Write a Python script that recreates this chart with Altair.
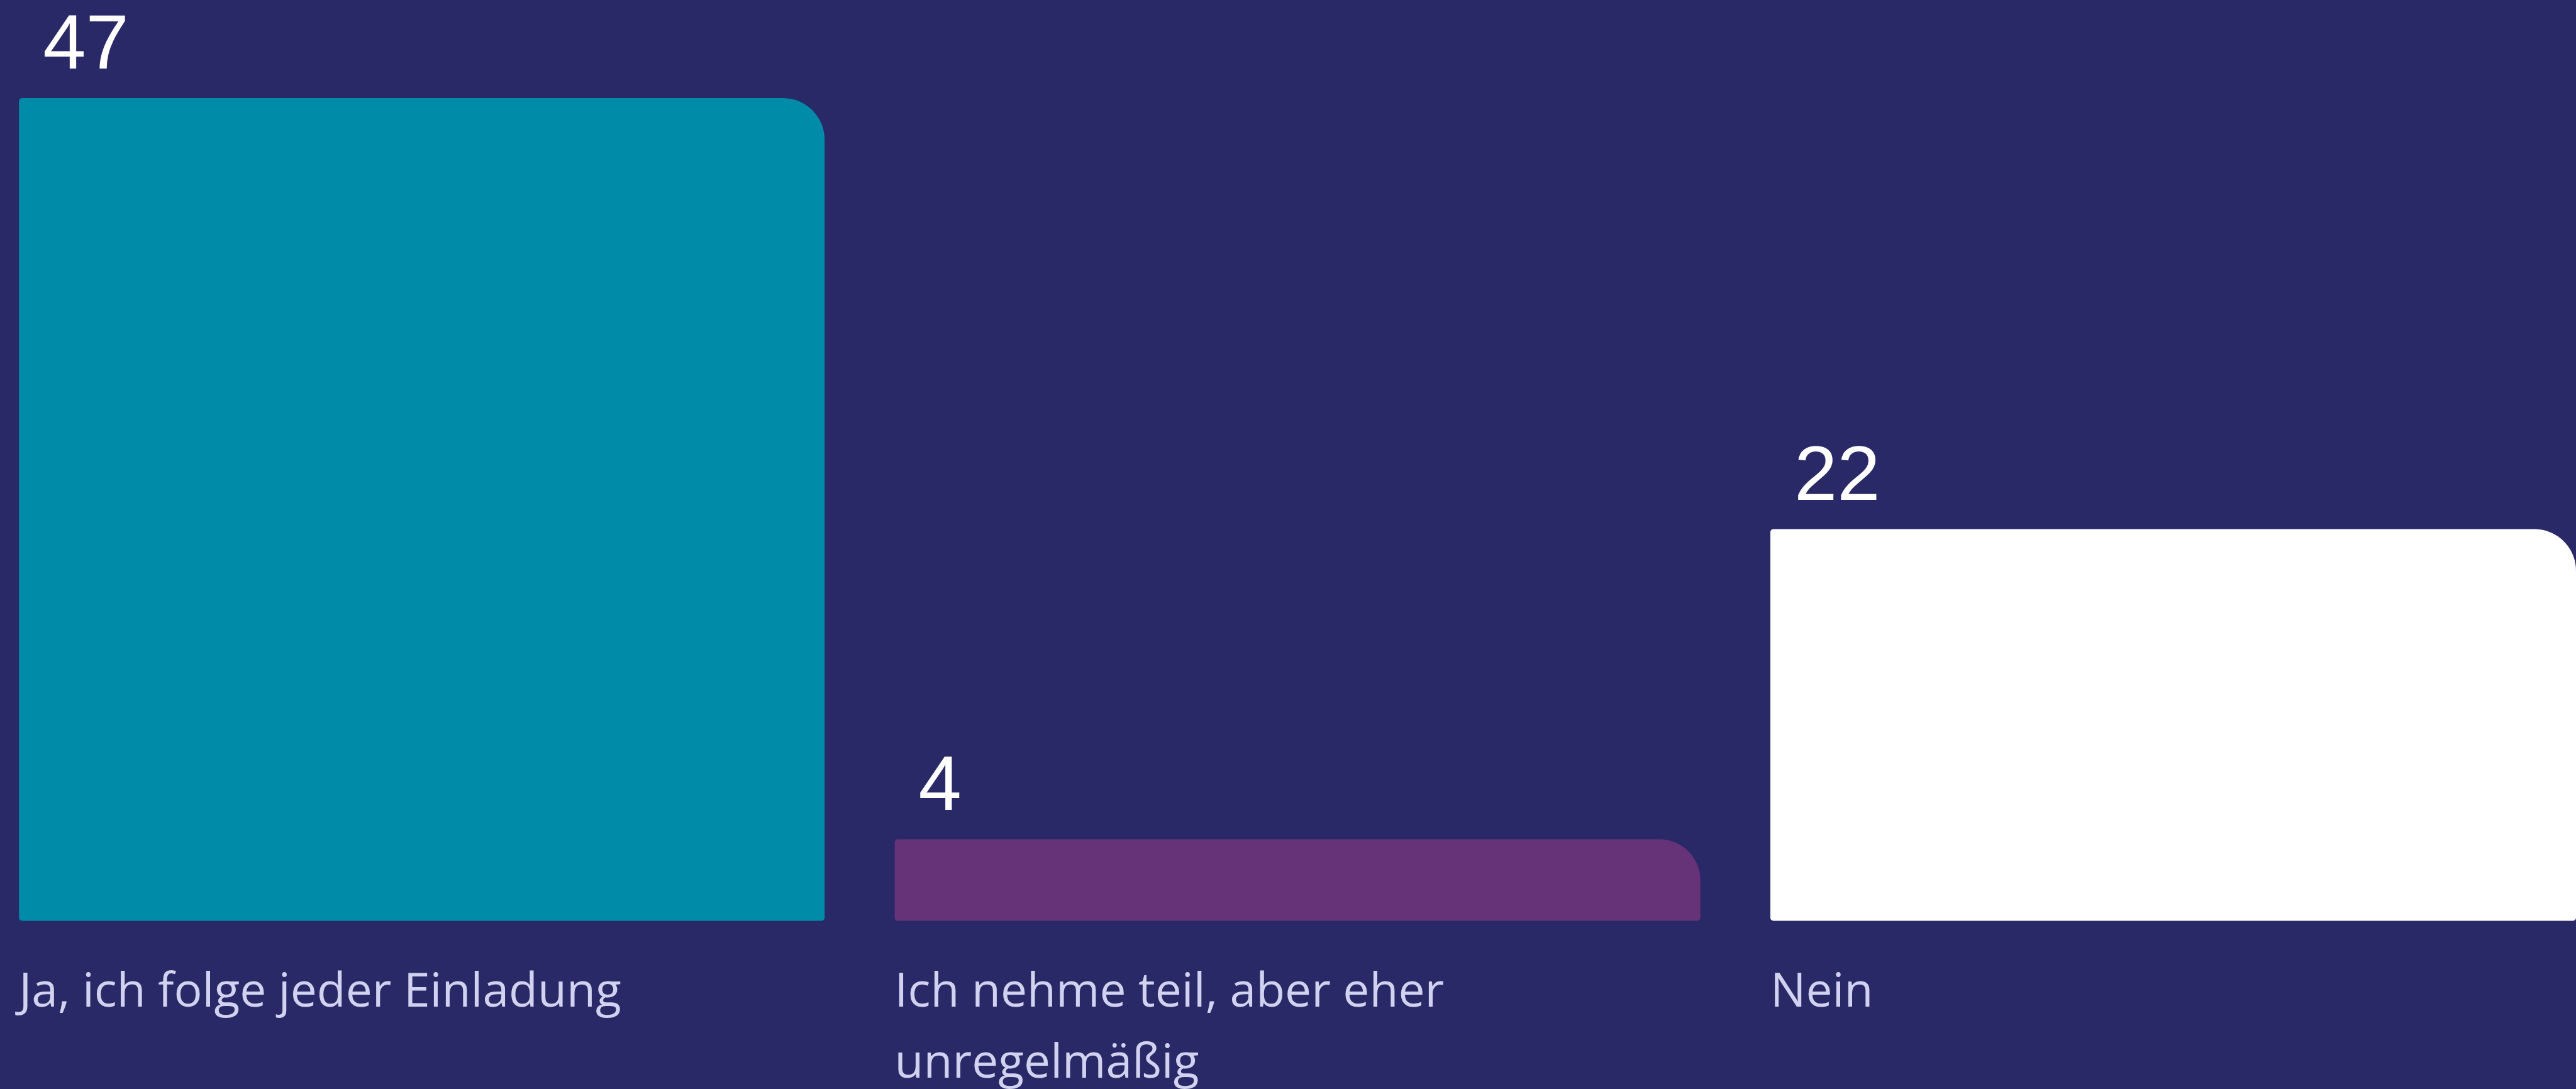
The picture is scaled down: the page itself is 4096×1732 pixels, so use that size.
import altair as alt
import pandas as pd

categories = ["Ja, ich folge jeder Einladung", "Ich nehme teil, aber eher\nunregelmäßig", "Nein"]
values = [47, 4, 22]
colors = ["#008ca9", "#663378", "#ffffff"]

df = pd.DataFrame({"cat": categories, "value": values, "color": colors})

S = 0.975
W = 4066
H = 1308.5
BG = "#292968"
DMIN = -0.725

xscale = alt.Scale(paddingInner=0.08, paddingOuter=0)
yscale = alt.Scale(domain=[DMIN, 47], zero=False, nice=False)

bars = alt.Chart(df).mark_bar(
    cornerRadiusTopRight=68 * S,
    cornerRadiusTopLeft=5 * S,
    cornerRadiusBottomLeft=5 * S,
    cornerRadiusBottomRight=5 * S,
).encode(
    x=alt.X("cat:N", sort=categories, axis=None, scale=xscale),
    y=alt.Y("value:Q", scale=yscale, axis=None, stack=None),
    y2=alt.datum(DMIN),
    color=alt.Color("color:N", scale=None),
)

nums = alt.Chart(df).mark_text(
    align="left", baseline="alphabetic", dx=39 * S, dy=-48 * S,
    fontSize=126 * S, font="Liberation Sans", color="#ffffff",
).encode(
    x=alt.X("cat:N", sort=categories, axis=None, bandPosition=0, scale=xscale),
    y=alt.Y("value:Q", scale=yscale, axis=None),
    text=alt.Text("value:Q"),
)

labels = alt.Chart(df).mark_text(
    align="left", baseline="alphabetic", dx=0, dy=140 * S,
    fontSize=75, font="Open Sans", color="#d2d2f0",
    lineBreak="\n", lineHeight=116 * S,
).encode(
    x=alt.X("cat:N", sort=categories, axis=None, bandPosition=0, scale=xscale),
    y=alt.value(H),
    text="cat:N",
)

chart = alt.layer(bars, nums, labels).properties(
    width=W, height=H,
    autosize=alt.AutoSizeParams(type="none"),
    padding={"left": 30.2, "top": 156, "right": 0, "bottom": 1732 - 156 - H},
    background=BG,
).configure_view(stroke=None)

chart.save("out.html", embed_options={"renderer": "svg", "actions": False})
